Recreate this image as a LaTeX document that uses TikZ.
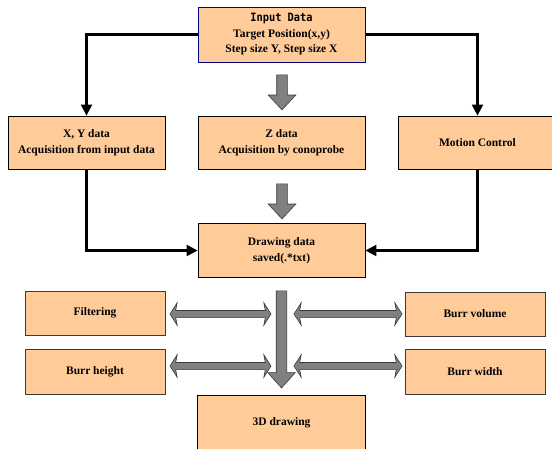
\documentclass[tikz,border=0pt]{standalone}
\usepackage{fontspec}
\setmainfont{Liberation Serif}
\newfontfamily\inputfont{DejaVu Sans Mono}[FakeStretch=0.9]
\usetikzlibrary{shapes.arrows,arrows.meta}
\definecolor{peach}{HTML}{FFCC99}
\definecolor{navyline}{HTML}{000080}
\definecolor{blockgrey}{HTML}{808080}
\definecolor{blockedge}{HTML}{3A3A3A}
\begin{document}
\begin{tikzpicture}[x=1pt,y=-1pt,
  box/.style={draw=black, line width=0.8pt, fill=peach, inner sep=0pt, align=center,
    font=\fontsize{11.5}{15.5}\selectfont\bfseries},
  lowbox/.style={box, draw=blockedge, line width=1pt},
  conn/.style={line width=2.2pt, -{Triangle[length=11pt,width=11pt]}},
  downarrow/.style={single arrow, shape border rotate=270, draw=blockedge, fill=blockgrey,
    line width=0.6pt, inner sep=5pt, minimum width=27pt, single arrow head extend=8.5pt,
    single arrow tip angle=86},
  twoarrow/.style={double arrow, draw=blockedge, fill=blockgrey, line width=0.6pt,
    inner sep=3.25pt, minimum width=22pt, double arrow head extend=7.75pt,
    double arrow tip angle=115, double arrow head indent=1.5pt}
]
\useasboundingbox (0,0) rectangle (552,448);
\clip (0,0) rectangle (552,448);

% nodes
\node[box, draw=navyline, line width=1pt, minimum width=167pt, minimum height=55pt] (in) at (281.5,34.5)
  {{\inputfont\fontsize{11.5}{15.5}\selectfont\bfseries Input Data}\\Target Position(x,y)\\Step size Y, Step size X};
\node[box, minimum width=157pt, minimum height=53pt] (xy) at (86.5,142.5) {X, Y data\\Acquisition from input data};
\node[box, minimum width=167pt, minimum height=53pt] (z) at (281.5,142.5) {Z data\\Acquisition by conoprobe};
\node[box, minimum width=159pt, minimum height=53pt] (mc) at (477.5,142.5) {Motion Control};
\node[box, minimum width=167pt, minimum height=54pt] (dd) at (281.5,250.5) {Drawing data\\saved(.*txt)};
\node[lowbox, minimum width=140pt, minimum height=44pt] (filt) at (95,313) {Filtering};
\node[lowbox, minimum width=140pt, minimum height=45pt] (bh) at (95,371.5) {Burr height};
\node[lowbox, minimum width=140pt, minimum height=44pt] (bv) at (475,314) {Burr volume};
\node[lowbox, minimum width=140pt, minimum height=45pt] (bw) at (475,371.5) {Burr width};
\node[box, minimum width=168pt, minimum height=56pt] (d3) at (281.5,423) {3D drawing};

% connectors
\draw[conn] (in.west) -| (xy.north);
\draw[conn] (in.east) -| (mc.north);
\draw[conn] (xy.south) |- (dd.west);
\draw[conn] (mc.south) |- (dd.east);

% block arrows
\node[downarrow, minimum height=35pt] (a1) at (282,89.5) {};
\node[downarrow, minimum height=35pt] (a2) at (282,198.5) {};
\node[downarrow, minimum height=97pt, single arrow tip angle=84] (a3) at (281.5,336.5) {};
\node[twoarrow, minimum height=101pt] (l1) at (220.5,314) {};
\node[twoarrow, minimum height=101pt] (l2) at (220.5,366) {};
\node[twoarrow, minimum height=108pt] (r1) at (348,314) {};
\node[twoarrow, minimum height=108pt] (r2) at (348,366) {};
\end{tikzpicture}
\end{document}
